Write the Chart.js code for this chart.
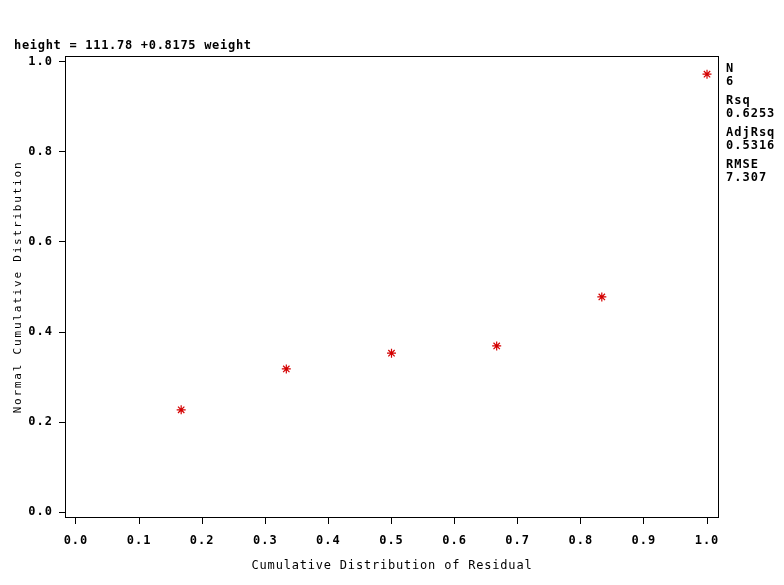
<!DOCTYPE html>
<html>
<head>
<meta charset="utf-8">
<script src="https://cdn.jsdelivr.net/npm/chart.js@4/dist/chart.umd.min.js"></script>
<style>
  html, body { margin: 0; padding: 0; background: #fff; }
  #wrap { width: 784px; height: 585px; }
</style>
</head>
<body>
<div id="wrap"><canvas id="c" width="784" height="585"></canvas></div>
<script>
// données
const residualCdf = [0.1667, 0.3333, 0.5, 0.6667, 0.8333, 1.0];
const normalCdf = [0.227, 0.318, 0.353, 0.369, 0.478, 0.973];
const tickValues = [0, 0.1, 0.2, 0.3, 0.4, 0.5, 0.6, 0.7, 0.8, 0.9, 1.0];
const yTickValues = [0, 0.2, 0.4, 0.6, 0.8, 1.0];
const titleText = 'height = 111.78 +0.8175 weight';
const statsLabels = ['N', '6', 'Rsq', '0.6253', 'AdjRsq', '0.5316', 'RMSE', '7.307'];

const monoBold = 'bold 12px "DejaVu Sans Mono"';

// Texte autour du graphique (titre, stats, titres d'axes) + cadre
const decorPlugin = {
    id: 'decor',
    beforeDraw(chart) {
        chart.ctx.letterSpacing = '1px';
    },
    afterDraw(chart) {
        const ctx = chart.ctx;
        const a = chart.chartArea;
        ctx.save();
        ctx.strokeStyle = '#000';
        ctx.lineWidth = 1;
        ctx.strokeRect(a.left + 0.5, a.top + 0.5, a.right - a.left - 1, a.bottom - a.top - 1);

        ctx.fillStyle = '#000';
        ctx.font = monoBold;
        ctx.letterSpacing = '0.7px';
        ctx.textBaseline = 'middle';
        ctx.textAlign = 'left';
        ctx.fillText(titleText, 14, 46);

        ctx.letterSpacing = '1px';
        let y = 69;
        statsLabels.forEach((t, i) => {
            ctx.fillText(t, a.right + 7, y);
            y += (i % 2 === 0) ? 13 : 19;
        });

        ctx.font = '12px "DejaVu Sans Mono"';
        ctx.letterSpacing = '0.8px';
        ctx.textAlign = 'center';
        ctx.fillText('Cumulative Distribution of Residual', (a.left + a.right) / 2, 566);

        ctx.translate(18, (a.top + a.bottom) / 2);
        ctx.rotate(-Math.PI / 2);
        ctx.font = '11px "DejaVu Sans Mono"';
        ctx.letterSpacing = '1.8px';
        ctx.fillText('Normal Cumulative Distribution', 0, 0);
        ctx.restore();
    }
};

new Chart(document.getElementById('c').getContext('2d'), {
    type: 'scatter',
    data: {
        datasets: [{
            data: residualCdf.map((x, i) => ({ x: x, y: normalCdf[i] })),
            pointStyle: 'star',
            radius: 4.5,
            borderColor: '#d40000',
            backgroundColor: '#d40000',
            borderWidth: 1.2
        }]
    },
    options: {
        responsive: false,
        animation: false,
        layout: { padding: { top: 56, right: 65, left: 0, bottom: 0 } },
        plugins: {
            legend: { display: false },
            tooltip: { enabled: false }
        },
        scales: {
            x: {
                type: 'linear',
                min: -0.0174,
                max: 1.019,
                afterBuildTicks: (s) => { s.ticks = tickValues.map(v => ({ value: v })); },
                afterFit: (s) => { s.height = 67; },
                grid: { drawOnChartArea: false, drawTicks: true, tickLength: 6, color: '#000' },
                border: { display: false },
                ticks: {
                    color: '#000',
                    font: { family: 'DejaVu Sans Mono', size: 12, weight: 'bold' },
                    padding: 10,
                    maxRotation: 0,
                    callback: (v) => v.toFixed(1)
                }
            },
            y: {
                type: 'linear',
                min: -0.0133,
                max: 1.0133,
                afterBuildTicks: (s) => { s.ticks = yTickValues.map(v => ({ value: v })); },
                afterFit: (s) => { s.width = 65; },
                grid: { drawOnChartArea: false, drawTicks: true, tickLength: 6, color: '#000' },
                border: { display: false },
                ticks: {
                    color: '#000',
                    font: { family: 'DejaVu Sans Mono', size: 12, weight: 'bold' },
                    padding: 6,
                    callback: (v) => v.toFixed(1)
                }
            }
        }
    },
    plugins: [decorPlugin]
});
</script>
</body>
</html>
